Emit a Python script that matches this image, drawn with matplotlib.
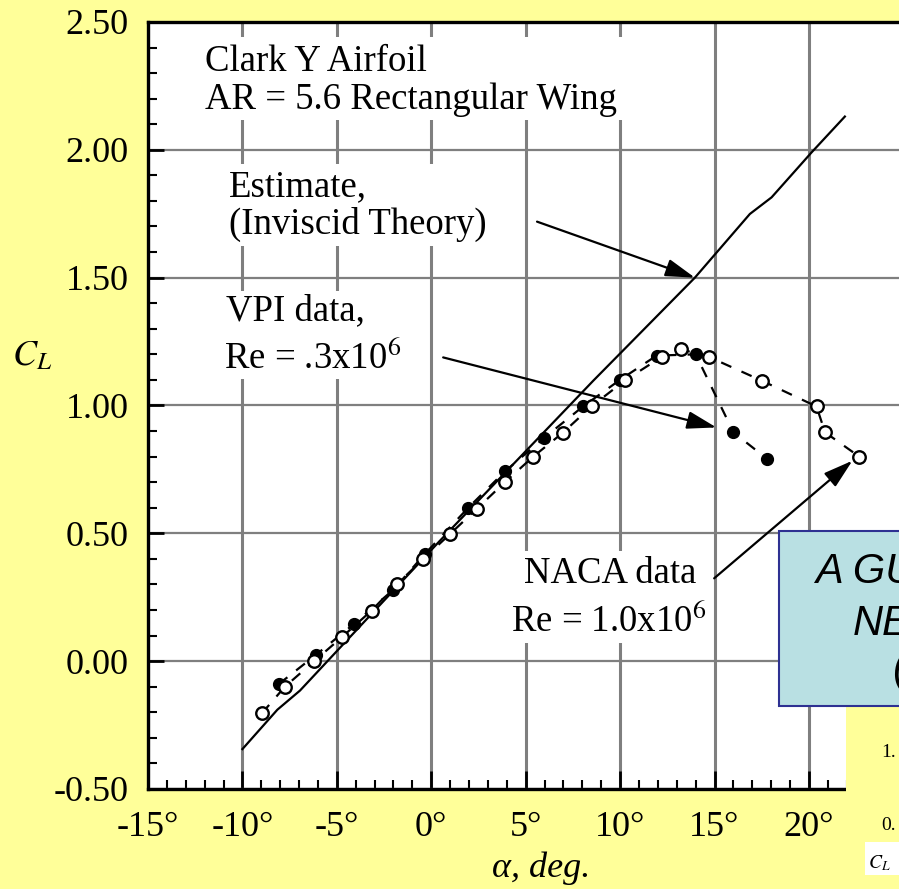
import numpy as np
import matplotlib.pyplot as plt
from matplotlib.patches import Rectangle
from matplotlib.ticker import MultipleLocator, FuncFormatter

plt.rcParams['font.family'] = 'Liberation Serif'
plt.rcParams['mathtext.fontset'] = 'stix'
plt.rcParams['axes.unicode_minus'] = False

# Estimate (inviscid theory)
est_alpha = [-10.0, -8.15, -6.95, 0.46, 8.58, 13.96, 16.87, 18.02, 20.14, 21.9]
est_cl = [-0.344, -0.19, -0.115, 0.471, 1.097, 1.50, 1.749, 1.814, 1.99, 2.13]

# VPI data, Re = .3x10^6 (filled)
vpi_alpha = [-8.08, -6.1, -4.1, -2.0, -0.33, 1.96, 3.9, 5.97, 8.05, 9.99, 11.93, 14.0, 16.0, 17.8]
vpi_cl = [-0.09, 0.025, 0.145, 0.28, 0.42, 0.60, 0.742, 0.873, 0.997, 1.10, 1.195, 1.20, 0.895, 0.79]

# NACA data, Re = 1.0x10^6 (open)
naca_alpha = [-8.97, -7.75, -6.2, -4.7, -3.16, -1.83, -0.42, 0.99, 2.4, 3.9, 5.4, 6.96,
              8.49, 10.26, 12.2, 13.2, 14.7, 17.5, 20.4, 20.85, 22.66]
naca_cl = [-0.204, -0.10, 0.0, 0.096, 0.198, 0.30, 0.40, 0.497, 0.595, 0.70, 0.80, 0.893,
           0.997, 1.098, 1.19, 1.22, 1.19, 1.097, 0.996, 0.895, 0.80]

W, H = 899, 889


def px(x, y):
    return x / W, 1 - y / H


fig = plt.figure(figsize=(8.99, 8.89), dpi=100, facecolor='#ffff99')
ax = fig.add_axes([0.1646, 0.1125, 0.8403, 0.8628])
ax.set_xlim(-15, 25)
ax.set_ylim(-0.5, 2.5)

ax.xaxis.set_major_locator(MultipleLocator(5))
ax.xaxis.set_minor_locator(MultipleLocator(1))
ax.yaxis.set_major_locator(MultipleLocator(0.5))
ax.yaxis.set_minor_locator(MultipleLocator(0.1))
ax.xaxis.set_major_formatter(FuncFormatter(lambda v, p: f"{v:.0f}°"))
ax.yaxis.set_major_formatter(FuncFormatter(lambda v, p: f"{v:.2f}"))

ax.xaxis.grid(True, which='major', color='#7f7f7f', lw=2.2)
ax.yaxis.grid(True, which='major', color='#7f7f7f', lw=1.6)

ax.tick_params(which='major', direction='in', length=13, width=2, labelsize=26, pad=16,
               top=False, right=False)
ax.tick_params(axis='y', which='major', length=11.5, pad=14)
ax.tick_params(which='minor', direction='in', length=6.5, width=1.5, top=False, right=False)
for s in ax.spines.values():
    s.set_linewidth(2.4)

# white boxes behind the text labels
for (x0, x1, y0, y1) in [(-12.25, 10.26, 2.118, 2.443), (-11.2, 3.1, 1.625, 1.946),
                         (-11.3, -1.1, 1.105, 1.449), (3.6, 14.8, 0.072, 0.432)]:
    ax.add_patch(Rectangle((x0, y0), x1 - x0, y1 - y0, fc='white', ec='none', zorder=1.8))

ax.plot(est_alpha, est_cl, color='black', lw=1.6, zorder=3)
ax.plot(vpi_alpha, vpi_cl, color='black', lw=1.6, ls=(0, (5, 5)), marker='o', ms=8.5,
        mfc='black', mec='black', zorder=3)
ax.plot(naca_alpha, naca_cl, color='black', lw=1.6, ls=(0, (5, 5)), marker='o', ms=9,
        mfc='white', mec='black', mew=1.7, zorder=3)

fs = 26.5
ax.text(-11.98, 2.310, 'Clark Y Airfoil', fontsize=fs, va='baseline', zorder=4)
ax.text(-11.98, 2.161, 'AR = 5.6 Rectangular Wing', fontsize=fs, va='baseline', zorder=4)
ax.text(-10.71, 1.820, 'Estimate,', fontsize=fs, va='baseline', zorder=4)
ax.text(-10.71, 1.672, '(Inviscid Theory)', fontsize=fs, va='baseline', zorder=4)
ax.text(-10.87, 1.332, 'VPI data,', fontsize=fs, va='baseline', zorder=4)
ax.text(-10.98, 1.148, 'Re = .3x10$^{6}$', fontsize=fs, va='baseline', zorder=4)
ax.text(9.46, 0.307, 'NACA data', fontsize=fs, va='baseline', ha='center', zorder=4)
ax.text(9.38, 0.119, 'Re = 1.0x10$^{6}$', fontsize=fs, va='baseline', ha='center', zorder=4)

arrow = dict(arrowstyle='-|>,head_length=1.0,head_width=0.3', lw=1.6, color='black',
             shrinkA=0, shrinkB=0, mutation_scale=18)
ax.annotate('', xy=(13.96, 1.50), xytext=(5.60, 1.719), arrowprops=arrow, zorder=4)
ax.annotate('', xy=(15.1, 0.914), xytext=(0.63, 1.188), arrowprops=arrow, zorder=4)
ax.annotate('', xy=(22.3, 0.784), xytext=(14.98, 0.324), arrowprops=arrow, zorder=4)

fig.text(*px(32, 357), '$C_L$', fontsize=26, ha='center', va='center')
fig.text(*px(541, 877), 'α, deg.', fontsize=26, style='italic', ha='center', va='baseline')

# overlapping slide elements at the right
fig.add_artist(Rectangle(px(846, 889), 0.2, (889 - 706) / H, transform=fig.transFigure,
                         fc='#ffff99', ec='none', zorder=4))
fig.add_artist(Rectangle(px(779, 706), 0.3, (706 - 531) / H, transform=fig.transFigure,
                         fc='#b9e0e3', ec='#2e3192', lw=1.5, zorder=5))
fig.text(*px(815, 583), 'A GU', fontsize=30, family='Liberation Sans', style='italic',
         va='baseline', zorder=6)
fig.text(*px(853, 635), 'NE', fontsize=30, family='Liberation Sans', style='italic',
         va='baseline', zorder=6)
fig.text(*px(892, 680), '(', fontsize=30, family='Liberation Sans', style='italic',
         va='baseline', zorder=6)
fig.add_artist(Rectangle(px(865, 875), 0.1, 33 / H, transform=fig.transFigure,
                         fc='white', ec='none', zorder=6))
fig.text(*px(868, 868), '$C_L$', fontsize=14, va='baseline', zorder=7)
fig.text(*px(881, 757), '1.', fontsize=14, va='baseline', zorder=7)
fig.text(*px(881, 830), '0.', fontsize=14, va='baseline', zorder=7)

fig.savefig('out.png', dpi=100, facecolor=fig.get_facecolor())
